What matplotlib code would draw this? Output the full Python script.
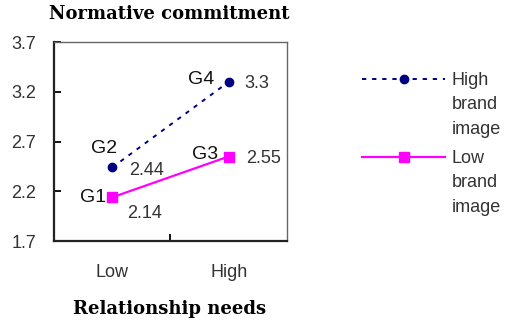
import matplotlib
matplotlib.use('Agg')
import matplotlib.pyplot as plt
from matplotlib.lines import Line2D

# data
categories = ['Low', 'High']
high_brand = [2.44, 3.3]
low_brand = [2.14, 2.55]
high_groups = ['G2', 'G4']
low_groups = ['G1', 'G3']
yticks = [1.7, 2.2, 2.7, 3.2, 3.7]
series_names = ['High\nbrand\nimage', 'Low\nbrand\nimage']

plt.rcParams['font.family'] = ['Liberation Sans', 'DejaVu Sans']

fig = plt.figure(figsize=(5.15, 3.24), dpi=100)
ax = fig.add_axes([0.105, 0.256, 0.452, 0.614])

high_style = dict(color='#000080', linestyle=(0, (2.2, 3)), linewidth=1.4,
                  marker='o', markersize=6)
low_style = dict(color='#ff00ff', linestyle='-', linewidth=1.6,
                 marker='s', markersize=7.5)

xpos = [0.5, 1.5]
ax.plot(xpos, high_brand, **high_style)
ax.plot(xpos, low_brand, **low_style)

# group labels and values
txt = dict(fontsize=14, color='#111111', textcoords='offset points',
           ha='center', va='center')
ax.annotate(high_groups[0], (xpos[0], high_brand[0]), xytext=(-6, 14), **txt)
ax.annotate(high_groups[1], (xpos[1], high_brand[1]), xytext=(-20, 1.5), **txt)
ax.annotate(low_groups[0], (xpos[0], low_brand[0]), xytext=(-14, 0), **txt)
ax.annotate(low_groups[1], (xpos[1], low_brand[1]), xytext=(-17, 1.5), **txt)

val = dict(fontsize=13, color='#333333', textcoords='offset points',
           ha='center', va='center')
ax.annotate(f'{high_brand[0]}', (xpos[0], high_brand[0]), xytext=(25, -2), **val)
ax.annotate(f'{high_brand[1]}', (xpos[1], high_brand[1]), xytext=(20, -1), **val)
ax.annotate(f'{low_brand[0]}', (xpos[0], low_brand[0]), xytext=(23, -12), **val)
ax.annotate(f'{low_brand[1]}', (xpos[1], low_brand[1]), xytext=(25, -1.5), **val)

ax.set_xlim(0, 2)
ax.set_ylim(1.7, 3.7)
ax.set_yticks(yticks)
ax.set_yticklabels([f'{t}' for t in yticks], fontsize=13, color='#333333')
ax.set_xticks([1])
ax.set_xticklabels([])
for x, c in zip(xpos, categories):
    ax.text(x, -0.16, c, transform=ax.get_xaxis_transform(), ha='center',
            va='center', fontsize=13, color='#333333')
ax.tick_params(axis='y', direction='in', length=5, width=1.3, pad=13)
ax.tick_params(axis='x', direction='in', length=5, width=1.3)

for side in ['left', 'bottom']:
    ax.spines[side].set_linewidth(1.6)
    ax.spines[side].set_color('#222222')
for side in ['top', 'right']:
    ax.spines[side].set_linewidth(1.0)
    ax.spines[side].set_color('#666666')

fig.text(0.328, 0.957, 'Normative commitment', ha='center', va='center',
         fontsize=13, fontweight='bold', family='DejaVu Serif')
fig.text(0.330, 0.046, 'Relationship needs', ha='center', va='center',
         fontsize=13, fontweight='bold', family='DejaVu Serif')

# legend: one handle per entry, label text placed beside it
for style, name, y in zip([high_style, low_style], series_names, [0.750, 0.509]):
    h = Line2D([], [], **style)
    fig.legend(handles=[h], labels=[''], loc='center left',
               bbox_to_anchor=(0.703, y), frameon=False, fontsize=13,
               handlelength=4.6, handletextpad=0, borderpad=0, borderaxespad=0)
    fig.text(0.877, y + 0.027, name, ha='left', va='top', fontsize=13,
             color='#333333', linespacing=1.55)

fig.savefig('out.png', dpi=100)
